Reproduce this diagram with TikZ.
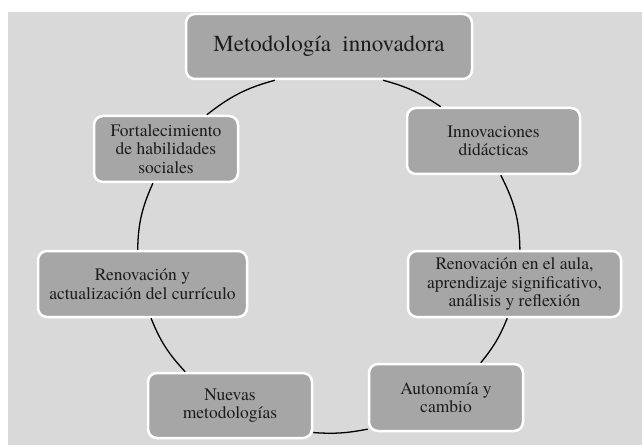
\documentclass[tikz,border=0pt]{standalone}
\usepackage{fontspec}
\setmainfont{texgyretermes}[Extension=.otf, UprightFont=*-regular, BoldFont=*-bold, ItalicFont=*-italic, BoldItalicFont=*-bolditalic]
\definecolor{panel}{RGB}{217,217,217}
\definecolor{boxfill}{RGB}{166,166,166}
\definecolor{inktext}{RGB}{28,28,28}
\begin{document}
\begin{tikzpicture}[x=1pt, y=1pt,
        stage/.style={draw=white, line width=2.5pt, fill=boxfill, rounded corners=9pt,
            align=center, text=inktext, inner sep=0pt,
            font=\fontsize{17.5}{18.5}\selectfont},
        ring/.style={line width=1.3pt, black}]
            \useasboundingbox (0,0) rectangle (642,445);
            \fill[panel] (8,0) rectangle (642,433);

            \node[stage, minimum width=286, minimum height=65,
                font=\fontsize{23}{25}\selectfont] (meta) at (329,398.5) {Metodología\ \ innovadora};
            \node[stage, minimum width=173, minimum height=66] (innov) at (493.5,304) {Innovaciones\\didácticas};
            \node[stage, minimum width=213, minimum height=66] (aula) at (514.5,161) {Renovación en el aula,\\aprendizaje significativo,\\análisis y reflexión};
            \node[stage, minimum width=154, minimum height=67] (auton) at (446,47.5) {Autonomía y\\cambio};
            \node[stage, minimum width=164, minimum height=65] (nuevas) at (230,39.5) {Nuevas\\metodologías};
            \node[stage, minimum width=209, minimum height=66] (renov) at (142.5,161) {Renovación y\\actualización del currículo};
            \node[stage, minimum width=144, minimum height=66] (fort) at (166,296) {Fortalecimiento\\de habilidades\\sociales};

            \draw[ring] (meta.212) to[out=195, in=38] (fort.40);
            \draw[ring] (fort.249) to[out=246, in=89] (renov.98);
            \draw[ring] (renov.284) to[out=292, in=133] (nuevas.143);
            \draw[ring] (nuevas.342) to[out=356, in=191] (auton.202);
            \draw[ring] (auton.45) to[out=51, in=248] (aula.258);
            \draw[ring] (aula.81) to[out=91, in=297] (innov.282);
            \draw[ring] (innov.147) to[out=146, in=345] (meta.328);
        \end{tikzpicture}
\end{document}
